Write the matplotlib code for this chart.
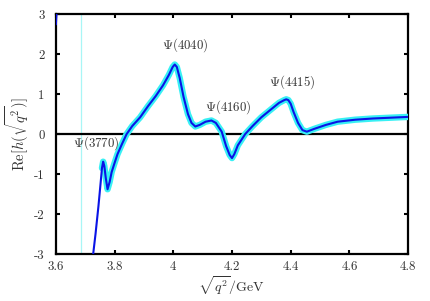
import matplotlib
matplotlib.use("Agg")
import matplotlib.pyplot as plt

# data
x_left = [3.600, 3.602, 3.605]
y_left = [2.75, 3.0, 3.4]

x_main = [3.722, 3.727, 3.735, 3.745, 3.752, 3.757, 3.761, 3.765, 3.770, 3.776,
          3.783, 3.790, 3.800, 3.810, 3.825, 3.841, 3.860, 3.887, 3.914, 3.940,
          3.965, 3.985, 3.998, 4.005, 4.012, 4.022, 4.035, 4.050, 4.062, 4.075,
          4.090, 4.110, 4.130, 4.145, 4.165, 4.180, 4.192, 4.200, 4.208, 4.220,
          4.245, 4.270, 4.300, 4.330, 4.360, 4.378, 4.385, 4.392, 4.400, 4.410,
          4.425, 4.440, 4.455, 4.480, 4.520, 4.560, 4.620, 4.680, 4.740, 4.800]
y_main = [-3.5, -3.0, -2.5, -1.8, -1.25, -0.85, -0.69, -0.80, -1.10, -1.38,
          -1.20, -0.95, -0.72, -0.50, -0.25, 0.00, 0.20, 0.42, 0.70, 0.95,
          1.22, 1.48, 1.68, 1.74, 1.68, 1.40, 0.93, 0.50, 0.28, 0.19,
          0.23, 0.31, 0.34, 0.28, 0.06, -0.30, -0.52, -0.60, -0.50, -0.28,
          0.00, 0.20, 0.42, 0.60, 0.78, 0.85, 0.87, 0.85, 0.76, 0.55,
          0.28, 0.10, 0.06, 0.13, 0.23, 0.31, 0.36, 0.39, 0.41, 0.43]
band_start = 3.754

threshold_x = 3.686

labels = [r"$\Psi(3770)$", r"$\Psi(4040)$", r"$\Psi(4160)$", r"$\Psi(4415)$"]
label_x = [3.738, 4.040, 4.187, 4.404]
label_y = [-0.23, 2.23, 0.68, 1.31]

xticks = [3.6, 3.8, 4.0, 4.2, 4.4, 4.6, 4.8]
xticklabels = ["3.6", "3.8", "4", "4.2", "4.4", "4.6", "4.8"]
yticks = [-3, -2, -1, 0, 1, 2, 3]

plt.rcParams["mathtext.fontset"] = "cm"
plt.rcParams["font.family"] = ["cmr10", "DejaVu Serif"]
plt.rcParams["axes.unicode_minus"] = False
plt.rcParams["axes.formatter.use_mathtext"] = True

fig = plt.figure(figsize=(4.30, 3.01), dpi=100)
ax = fig.add_axes([0.130, 0.156, 0.819, 0.797])

ax.axvline(threshold_x, color="#a8f6f6", lw=0.9, zorder=1)
ax.axhline(0, color="black", lw=1.6, zorder=2)

bx = [x for x in x_main if x >= band_start]
by = [y for x, y in zip(x_main, y_main) if x >= band_start]
ax.plot(bx, by, color="#38f0f4", lw=4.6, solid_capstyle="round",
        solid_joinstyle="round", zorder=3)
ax.plot(x_main, y_main, color="#0a14e6", lw=1.5, zorder=4,
        solid_joinstyle="round")
ax.plot(x_left, y_left, color="#0a14e6", lw=1.5, zorder=4)

for t, lx, ly in zip(labels, label_x, label_y):
    ax.text(lx, ly, t, ha="center", va="center", fontsize=9.3, color="#333333")

ax.set_xlim(3.6, 4.8)
ax.set_ylim(-3, 3)
ax.set_xticks(xticks)
ax.set_xticklabels(xticklabels)
ax.set_yticks(yticks)
ax.set_yticklabels([str(v) for v in yticks])
for s in ax.spines.values():
    s.set_linewidth(1.6)
ax.tick_params(direction="in", length=3, width=1.5, top=True, right=True,
               labelsize=9.3, labelcolor="#333333")
ax.tick_params(axis="x", pad=5)
ax.tick_params(axis="y", pad=8)
ax.set_xlabel(r"$\sqrt{q^2}$/GeV", fontsize=10, color="#333333", labelpad=0.5)
ax.set_ylabel(r"Re$[h(\sqrt{q^2})]$", fontsize=10.5, color="#333333", labelpad=2)

fig.savefig("out.png", dpi=100)
